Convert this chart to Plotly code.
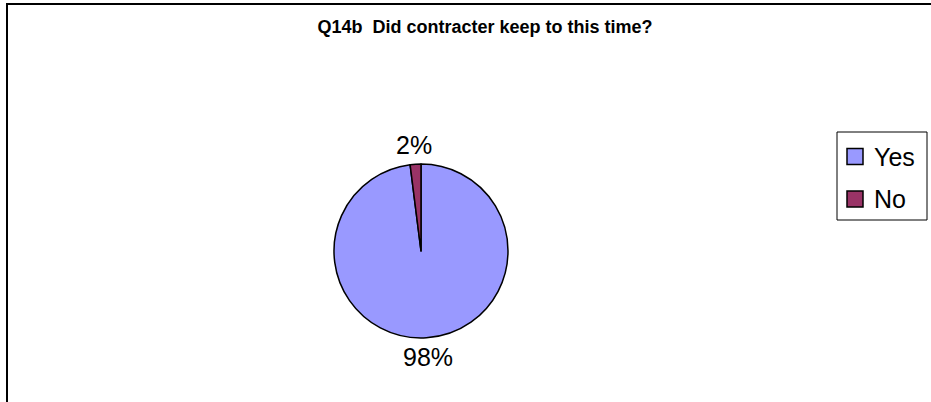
import math
import plotly.graph_objects as go

# Survey answers and their shares
categories = ["Yes", "No"]
shares = [98, 2]
colors = ["#9999FF", "#993366"]

W, H = 931, 402
cx, cy, r = 421, 251, 87  # pie centre and radius in pixels
label_r = 106             # distance of percentage labels from the centre
FONT = "Liberation Sans, Arial"


def px(x):
    return x / W


def py(y):
    return 1 - y / H


fig = go.Figure(
    go.Pie(
        labels=categories,
        values=shares,
        sort=False,
        direction="clockwise",
        rotation=0,
        marker=dict(colors=colors, line=dict(color="black", width=1.5)),
        textinfo="none",
        hoverinfo="label+percent",
        domain=dict(x=[px(cx - r), px(cx + r)], y=[py(cy + r), py(cy - r)]),
        showlegend=False,
    )
)

# Percentage labels, centred on each slice's mid-angle (clockwise from 12 o'clock)
total = sum(shares)
start = 0.0
for value in shares:
    frac = value / total
    mid = (start + frac / 2) * 2 * math.pi
    start += frac
    fig.add_annotation(
        x=px(cx + label_r * math.sin(mid)),
        y=py(cy - label_r * math.cos(mid)),
        xref="paper",
        yref="paper",
        text=f"{round(frac * 100)}%",
        showarrow=False,
        xanchor="center",
        yanchor="middle",
        font=dict(family=FONT, size=25, color="black"),
    )

# Legend box with a swatch and name for each category
shapes = [
    dict(type="rect", xref="paper", yref="paper",
         x0=px(837), x1=px(927), y0=py(220), y1=py(132),
         line=dict(color="black", width=1), fillcolor="white"),
]
row_y = [156.5, 199]
for name, color, yc in zip(categories, colors, row_y):
    shapes.append(dict(type="rect", xref="paper", yref="paper",
                       x0=px(847), x1=px(863), y0=py(yc + 8), y1=py(yc - 8),
                       line=dict(color="black", width=1.5), fillcolor=color))
    fig.add_annotation(x=px(872), y=py(yc), xref="paper", yref="paper",
                       text=name, showarrow=False, xanchor="left", yanchor="middle",
                       font=dict(family=FONT, size=25, color="black"))

# Chart frame, running off the right and bottom edges
shapes.append(dict(type="rect", xref="paper", yref="paper",
                   x0=px(7), x1=1.05, y0=-0.05, y1=py(4),
                   line=dict(color="black", width=2), fillcolor="rgba(0,0,0,0)"))

fig.update_layout(
    width=W,
    height=H,
    margin=dict(l=0, r=0, t=0, b=0),
    paper_bgcolor="white",
    plot_bgcolor="white",
    title=dict(
        text="<b>Q14b  Did contracter keep to this time?</b>",
        x=px(485),
        xanchor="center",
        y=py(27),
        yanchor="middle",
        font=dict(family=FONT, size=18, color="black"),
    ),
    shapes=shapes,
)

fig.write_html("out.html")
